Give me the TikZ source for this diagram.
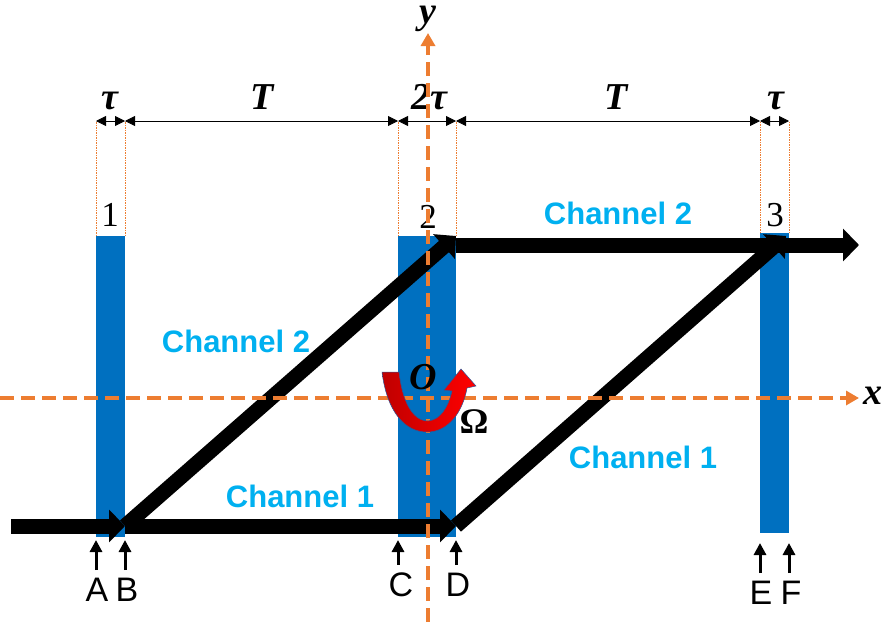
\documentclass[tikz,border=0pt]{standalone}
\usepackage{fontspec}
\setmainfont{Liberation Serif}
\setsansfont{Liberation Sans}
\usetikzlibrary{arrows.meta}
\definecolor{barblue}{HTML}{0070C0}
\definecolor{chblue}{HTML}{00B0F0}
\definecolor{axorange}{HTML}{ED7D31}
\definecolor{darkred}{HTML}{C00000}
\definecolor{rimblue}{HTML}{2F5597}
\begin{document}
\begin{tikzpicture}[x=1pt,y=-1pt,
  bar/.style={fill=barblue, draw=none, inner sep=0pt, outer sep=0pt},
  flowarr/.style={line width=15pt, -{Triangle[length=16pt,width=32pt]}},
  dimarr/.style={line width=0.8pt, {Triangle[length=10pt,width=10pt]}-{Triangle[length=10pt,width=10pt]}},
  guide/.style={axorange, line width=0.7pt, dash pattern=on 1.5pt off 1pt},
  axisline/.style={axorange, line width=4pt, dash pattern=on 14pt off 7pt, -{Triangle[length=13pt,width=14pt]}},
  chan/.style={font=\sffamily\bfseries\fontsize{31}{31}\selectfont, text=chblue, inner sep=0pt},
  ptlabel/.style={font=\sffamily\fontsize{34}{34}\selectfont, inner sep=0pt},
  numlabel/.style={font=\fontsize{35}{35}\selectfont, inner sep=0pt, anchor=base},
  symlabel/.style={font=\bfseries\itshape\fontsize{38}{38}\selectfont, inner sep=0pt},
  smallarr/.style={line width=3pt, -{Triangle[length=12pt,width=12pt]}, shorten <=8pt, shorten >=3pt}]
\useasboundingbox (0,0) rectangle (886,627);

% bars
\node[bar, minimum width=29pt, minimum height=301pt] (b1) at (110.5,386.5) {};
\node[bar, minimum width=58pt, minimum height=301pt] (b2) at (427,386.5) {};
\node[bar, minimum width=29pt, minimum height=300pt] (b3) at (774.5,383) {};

% dimension line
\coordinate (dimy) at (0,121);
\coordinate (d1) at (b1.north west |- dimy);
\coordinate (d2) at (b1.north east |- dimy);
\coordinate (d3) at (b2.north west |- dimy);
\coordinate (d4) at (b2.north east |- dimy);
\coordinate (d5) at (b3.north west |- dimy);
\coordinate (d6) at (b3.north east |- dimy);
\draw[guide] (b1.north west) -- (d1);
\draw[guide] (b1.north east) -- (d2);
\draw[guide] (b2.north west) -- (d3);
\draw[guide] (b2.north east) -- (d4);
\draw[guide] (b3.north west) -- (d5);
\draw[guide] (b3.north east) -- (d6);
\draw[dimarr] (d1) -- (d2);
\draw[dimarr] (d2) -- (d3);
\draw[dimarr] (d3) -- (d4);
\draw[dimarr] (d4) -- (d5);
\draw[dimarr] (d5) -- (d6);
\node[symlabel, anchor=base] (tau1) at (110,109) {τ};
\node[symlabel, anchor=base] (T1) at (262,109) {T};
\node[symlabel, anchor=base] (tau2) at (429,109) {2τ};
\node[symlabel, anchor=base] (T2) at (616,109) {T};
\node[symlabel, anchor=base] (tau3) at (776,109) {τ};

% bar numbers
\node[numlabel] (n1) at (110,226) {1};
\node[numlabel] (n2) at (428,228) {2};
\node[numlabel] (n3) at (775,226) {3};

% black beams
\coordinate (src) at (11,526);
\coordinate (pB) at (b1.east |- src);
\coordinate (pD) at (b2.east |- src);
\coordinate (t0) at ([yshift=-9pt]b2.north east);
\coordinate (sink) at (859,245);
\coordinate (t3) at ([xshift=-3pt,yshift=-3pt]b3.north east);
\draw[flowarr] (src) -- (pB);
\draw[flowarr] (pB) -- (pD);
\draw[flowarr] (pB) -- (b2.north east);
\draw[flowarr] (t0) -- (sink);
\draw[flowarr] (pD) -- (t3);

% channel labels
\node[chan] (c2a) at (236,341) {Channel 2};
\node[chan] (c1a) at (300,496) {Channel 1};
\node[chan] (c2b) at (618,213) {Channel 2};
\node[chan] (c1b) at (643,457) {Channel 1};

% axes
\coordinate (ybot) at (428,622);
\coordinate (ytop) at (428,33);
\coordinate (xl) at (0,398);
\coordinate (xr) at (859,398);
\draw[axisline] (ybot) -- (ytop);
\draw[axisline] (xl) -- (xr);
\node[symlabel, anchor=base] (ylab) at (428,23) {y};
\node[symlabel] (xlab) at (873,396) {x};

% rotation arrow
\draw[draw=rimblue, line width=0.5pt, left color=darkred, right color=red]
  (382,372) .. controls (387,412) and (405,432) .. (427,432)
  .. controls (449,432) and (463,411) .. (467,388)
  -- (476,386) -- (461,369) -- (444,390) -- (452,391)
  .. controls (448,408) and (440,420) .. (428,421)
  .. controls (412,421) and (402,400) .. (399,372) -- cycle;
\node[symlabel] (O) at (423,377) {O};
\node[font=\bfseries\fontsize{36}{36}\selectfont, inner sep=0pt] (Om) at (474,422) {Ω};

% bottom markers
\node[ptlabel] (lA) at (97,590) {A};
\node[ptlabel] (lB) at (127,590) {B};
\node[ptlabel] (lC) at (401,585) {C};
\node[ptlabel] (lD) at (458,585) {D};
\node[ptlabel] (lE) at (761,593) {E};
\node[ptlabel] (lF) at (791,593) {F};
\draw[smallarr] (b1.south west |- lA.north) -- (b1.south west);
\draw[smallarr] (b1.south east |- lB.north) -- (b1.south east);
\draw[smallarr] (b2.south west |- lC.north) -- (b2.south west);
\draw[smallarr] (b2.south east |- lD.north) -- (b2.south east);
\draw[smallarr, shorten >=10pt] (b3.south west |- lE.north) -- (b3.south west);
\draw[smallarr, shorten >=10pt] (b3.south east |- lF.north) -- (b3.south east);
\end{tikzpicture}
\end{document}
